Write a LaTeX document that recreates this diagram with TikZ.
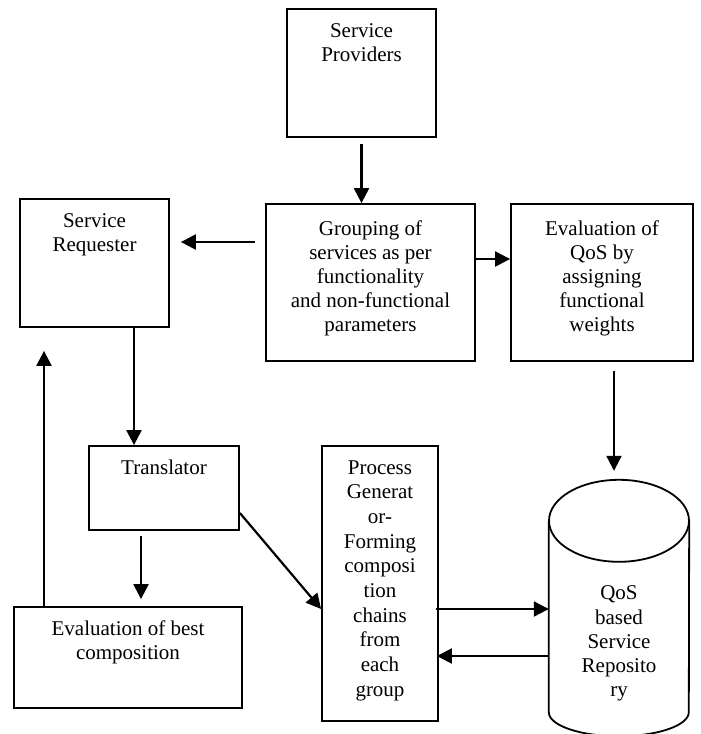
\documentclass[tikz,border=0pt]{standalone}
\usepackage{fontspec}
\setmainfont{Liberation Serif}
\usetikzlibrary{positioning,arrows.meta}

\begin{document}
\begin{tikzpicture}[x=1pt,y=1pt,
    box/.style={rectangle,draw,line width=1.8pt},
    txt/.style={inner sep=0pt,align=center,font=\fontsize{21}{24.2}\selectfont},
    arr/.style={line width=2.2pt,-{Triangle[length=15pt,width=15pt]}}]
  \useasboundingbox (0,0) rectangle (701,-734);

  % Draw the boxes
  \node[box,minimum width=149pt,minimum height=128pt] (prov) at (361.5,-73) {};
  \node[box,minimum width=149pt,minimum height=128pt] (req) at (94.5,-263) {};
  \node[box,minimum width=209pt,minimum height=157pt] (group) at (370.5,-282.5) {};
  \node[box,minimum width=182pt,minimum height=157pt] (qos) at (602,-282.5) {};
  \node[box,minimum width=150pt,minimum height=84pt] (trans) at (164,-488) {};
  \node[box,minimum width=228pt,minimum height=101pt] (best) at (128,-657.5) {};
  \node[box,minimum width=116pt,minimum height=275pt] (proc) at (380,-583.5) {};

  % Draw the repository
  \node[minimum width=140pt,minimum height=256pt] (repo) at (619,-608) {};
  \draw[line width=1.8pt] ([yshift=-41pt]repo.north) ellipse [x radius=70pt,y radius=41pt];
  \draw[line width=1.8pt] ([yshift=-41pt]repo.north west) -- ([yshift=24pt]repo.south west)
    arc[start angle=180,end angle=360,x radius=70pt,y radius=24pt] -- ([yshift=-41pt]repo.north east);

  % Draw the texts
  \node[txt,below=15pt of prov.north] (provtext) {Service\\Providers};
  \node[txt,below=15pt of req.north] (reqtext) {Service\\Requester};
  \node[txt,below=17pt of group.north] (grouptext) {Grouping of\\services as per\\functionality\\and non-functional\\parameters};
  \node[txt,below=17pt of qos.north] (qostext) {Evaluation of\\QoS by\\assigning\\functional\\weights};
  \node[txt,below=15pt of trans.north] (transtext) {Translator};
  \node[txt,below=14pt of best.north] (besttext) {Evaluation of best\\composition};
  \node[txt,font=\fontsize{21}{24.7}\selectfont,below=15pt of proc.north] (proctext) {Process\\Generat\\or-\\Forming\\composi\\tion\\chains\\from\\each\\group};
  \node[txt,below=106pt of repo.north] (repotext) {QoS\\based\\Service\\Reposito\\ry};

  % Draw the arrows
  \draw[arr] ([yshift=-6pt]prov.south) -- (prov.south |- group.north);
  \draw[arr] ([xshift=-10pt,yshift=40.5pt]group.west) -- ([xshift=11pt,yshift=21pt]req.east);
  \draw[arr] ([yshift=23.5pt]group.east) -- ([yshift=23.5pt]qos.west);
  \draw[arr] ([xshift=12pt,yshift=-9pt]qos.south) -- ([xshift=-5pt,yshift=9pt]repo.north);
  \draw[arr] ([xshift=39.5pt]req.south) -- ([xshift=-30pt]trans.north);
  \draw[arr] ([xshift=-84pt]best.north) -- ([xshift=-50.5pt,yshift=-23pt]req.south);
  \draw[arr] ([xshift=-23pt,yshift=-5pt]trans.south) -- ([xshift=13pt,yshift=7pt]best.north);
  \draw[arr] ([yshift=-25pt]trans.east) -- ([yshift=-25.5pt]proc.west);
  \draw[arr] ([xshift=-3pt,yshift=-25.5pt]proc.east) -- ([yshift=-1pt]repo.west);
  \draw[arr] ([yshift=-48pt]repo.west) -- ([xshift=-2pt,yshift=-72.5pt]proc.east);

\end{tikzpicture}
\end{document}
